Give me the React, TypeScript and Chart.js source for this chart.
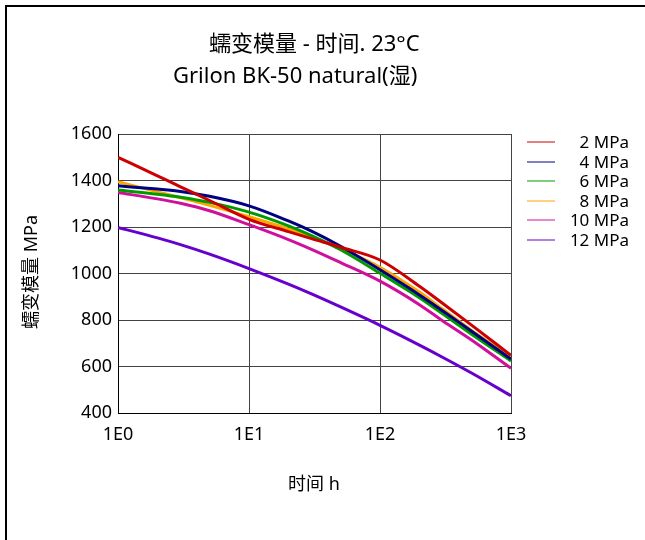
import React, { useEffect, useRef } from 'react';
import { Chart, registerables } from 'chart.js';

Chart.register(...registerables);

const times = [1, 2, 3, 5, 10, 20, 30, 50, 100, 200, 300, 500, 1000];
const seriesLabels = ['2 MPa', '4 MPa', '6 MPa', '8 MPa', '10 MPa', '12 MPa'];
const mpa2 = [1500, 1420, 1373, 1314, 1233, 1180, 1150, 1113, 1058, 945, 872, 778, 648];
const mpa4 = [1377, 1363, 1353, 1332, 1291, 1226, 1182, 1117, 1016, 908, 840, 752, 632];
const mpa6 = [1359, 1341, 1328, 1306, 1264, 1205, 1163, 1102, 1001, 896, 827, 739, 624];
const mpa8 = [1395, 1351, 1326, 1293, 1244, 1192, 1157, 1107, 1027, 920, 847, 755, 640];
const mpa10 = [1348, 1321, 1302, 1270, 1210, 1146, 1104, 1047, 967, 866, 797, 714, 592];
const mpa12 = [1198, 1153, 1124, 1083, 1021, 954, 912, 856, 777, 692, 640, 572, 474];
const seriesValues = [mpa2, mpa4, mpa6, mpa8, mpa10, mpa12];
const seriesColors = ['#cc0000', '#000080', '#009900', '#ffa500', '#d0109c', '#6600cc'];
const xTickValues = [1, 10, 100, 1000];
const xTickLabels = ['1E0', '1E1', '1E2', '1E3'];
const titleLine1 = '蠕变模量 - 时间. 23°C';
const titleLine2 = 'Grilon BK-50 natural(湿)';
const xAxisTitle = '时间 h';
const yAxisTitle = '蠕变模量 MPa';

const FONT = '"Noto Sans", "Noto Sans CJK SC", sans-serif';

const decorPlugin = {
  id: 'decor',
  afterDraw(chart: any) {
    const ctx = chart.ctx as CanvasRenderingContext2D;
    ctx.save();
    ctx.fillStyle = '#000';
    ctx.textBaseline = 'alphabetic';
    ctx.textAlign = 'left';
    ctx.font = `22px ${FONT}`;
    ctx.fillText(titleLine1, 209, 51);
    ctx.fillText(titleLine2, 173, 83);
    ctx.textAlign = 'center';
    ctx.font = `18px ${FONT}`;
    ctx.textBaseline = 'middle';
    ctx.fillText(xAxisTitle, 314, 485);
    ctx.save();
    ctx.translate(32, 272);
    ctx.rotate(-Math.PI / 2);
    ctx.fillText(yAxisTitle, 0, 0);
    ctx.restore();
    // legend
    ctx.font = `17px ${FONT}`;
    ctx.textAlign = 'right';
    ctx.textBaseline = 'middle';
    chart.data.datasets.forEach((ds: any, i: number) => {
      const yc = Math.round(142 + i * 19.6);
      ctx.strokeStyle = ds.borderColor;
      ctx.lineWidth = 1;
      ctx.beginPath();
      ctx.moveTo(527, yc);
      ctx.lineTo(555, yc);
      ctx.stroke();
      ctx.fillStyle = '#000';
      ctx.fillText(ds.label, 629, yc + 1);
    });
    ctx.restore();
  },
};

export default function App() {
  const ref = useRef<HTMLCanvasElement | null>(null);
  useEffect(() => {
    if (!ref.current) return;
    const chart = new Chart(ref.current, {
      type: 'line',
      data: {
        datasets: seriesValues.map((vals, i) => ({
          label: seriesLabels[i],
          data: times.map((t, j) => ({ x: t, y: vals[j] })),
          borderColor: seriesColors[i],
          backgroundColor: seriesColors[i],
          borderWidth: 3,
          pointRadius: 0,
          cubicInterpolationMode: 'monotone' as const,
          fill: false,
        })),
      },
      options: {
        animation: false,
        responsive: false,
        devicePixelRatio: 1,
        layout: { padding: { left: 0, top: 134, right: 134, bottom: 0 } },
        plugins: { legend: { display: false }, tooltip: { enabled: false }, title: { display: false } },
        scales: {
          x: {
            type: 'logarithmic',
            min: 1,
            max: 1000,
            afterBuildTicks: (scale: any) => {
              scale.ticks = xTickValues.map((v) => ({ value: v }));
            },
            afterFit: (scale: any) => {
              scale.height = 127;
            },
            ticks: {
              autoSkip: false,
              maxRotation: 0,
              padding: 11,
              color: '#000',
              font: { family: FONT, size: 18 },
              callback: (value: any) => {
                const idx = xTickValues.indexOf(Number(value));
                return idx >= 0 ? xTickLabels[idx] : '';
              },
            },
            grid: { color: '#444', lineWidth: 1, drawTicks: false },
            border: { color: '#000', width: 1 },
          },
          y: {
            type: 'linear',
            min: 400,
            max: 1600,
            afterFit: (scale: any) => {
              scale.width = 118;
            },
            ticks: {
              stepSize: 200,
              padding: 6,
              color: '#000',
              font: { family: FONT, size: 18 },
              callback: (value: any) => String(value),
            },
            grid: { color: '#444', lineWidth: 1, drawTicks: false },
            border: { color: '#000', width: 1 },
          },
        },
      },
      plugins: [decorPlugin],
    });
    return () => chart.destroy();
  }, []);
  return (
    <div style={{ position: 'absolute', left: 0, top: 0, width: 645, height: 540, overflow: 'hidden', background: '#fff' }}>
      <div style={{ position: 'absolute', left: 5, top: 5, width: 800, height: 800, borderLeft: '2px solid #000', borderTop: '2px solid #000' }} />
      <canvas ref={ref} width={645} height={540} style={{ position: 'absolute', left: 0, top: 0 }} />
    </div>
  );
}
